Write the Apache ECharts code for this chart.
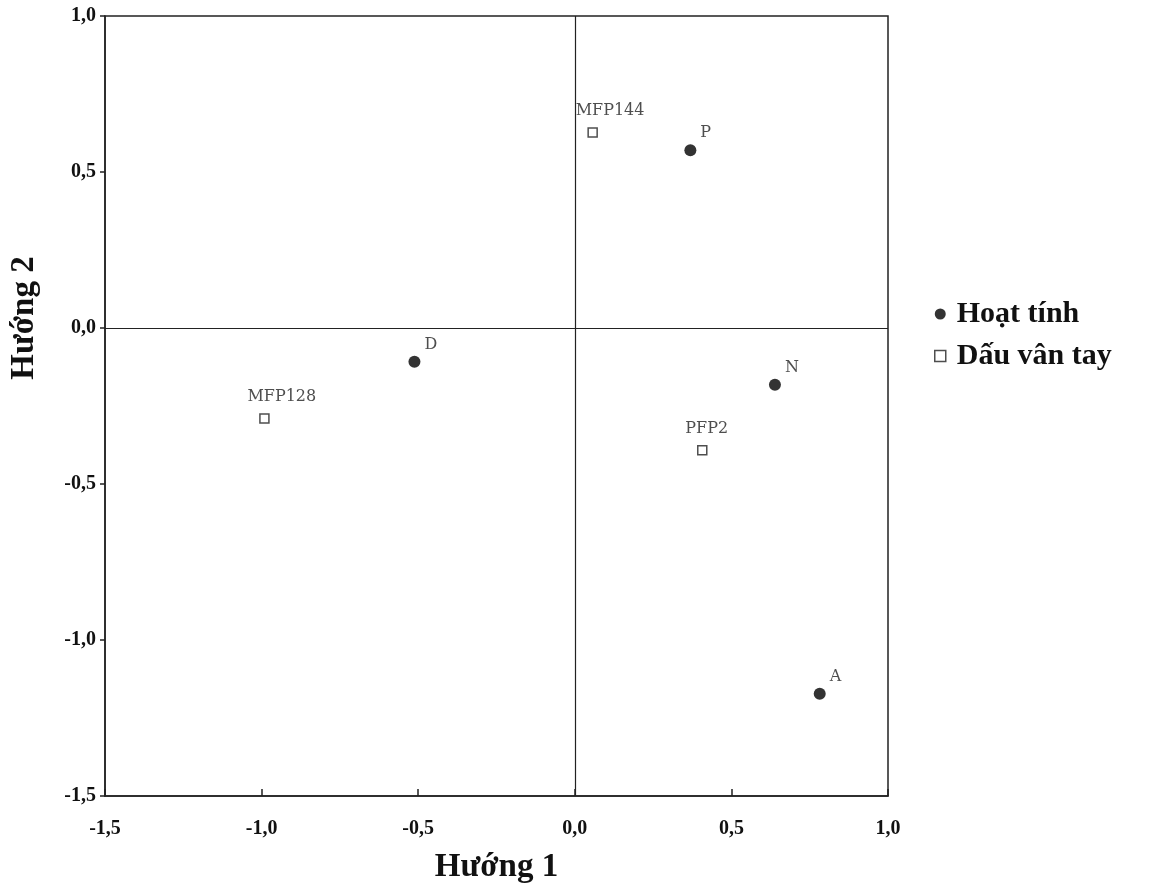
<!DOCTYPE html>
<html>
<head>
<meta charset="utf-8">
<script src="https://cdn.jsdelivr.net/npm/echarts@6/dist/echarts.min.js"></script>
<style>
html, body { margin: 0; padding: 0; background: #fff; }
#main { width: 1160px; height: 889px; }
</style>
</head>
<body>
<div id="main"></div>
<script>
var activityNames = ['P', 'D', 'N', 'A'];
var activityX = [0.369, -0.512, 0.639, 0.782];
var activityY = [0.570, -0.108, -0.182, -1.172];

var printNames = ['MFP144', 'MFP128', 'PFP2'];
var printX = [0.057, -0.991, 0.407];
var printY = [0.627, -0.290, -0.392];

var seriesNames = ['Hoạt tính', 'Dấu vân tay'];

function pairs(xs, ys, names) {
	var out = [];
	for (var i = 0; i < xs.length; i++) {
		out.push({ name: names[i], value: [xs[i], ys[i]] });
	}
	return out;
}

function fmt(v) {
	return v.toFixed(1).replace('.', ',');
}

var times = '"Liberation Serif", "DejaVu Serif", serif';
var plain = '"DejaVu Serif", "Liberation Serif", serif';

var myChart = echarts.init(document.getElementById('main'));

var axisCommon = {
	type: 'value',
	min: -1.5,
	max: 1.0,
	interval: 0.5,
	splitLine: { show: false },
	axisLine: { onZero: false, lineStyle: { color: '#222', width: 1.5 } },
	axisTick: { lineStyle: { color: '#222', width: 1.5 } },
	axisLabel: {
		formatter: fmt,
		color: '#111',
		fontFamily: times,
		fontWeight: 'bold',
		fontSize: 20
	},
	nameTextStyle: {
		color: '#111',
		fontFamily: times,
		fontWeight: 'bold',
		fontSize: 33
	}
};

var option = {
	backgroundColor: '#fff',
	animation: false,
	grid: {
		left: 101,
		right: 272,
		top: 16,
		bottom: 88,
		show: true,
		borderColor: '#222',
		borderWidth: 1.5,
		backgroundColor: 'transparent'
	},
	legend: {
		orient: 'vertical',
		left: 929,
		top: 293,
		itemGap: 10,
		itemWidth: 11,
		itemHeight: 11,
		data: [
			{ name: seriesNames[0], icon: 'circle' },
			{ name: seriesNames[1], icon: 'rect', itemStyle: { color: '#fff', borderColor: '#222', borderWidth: 1.5 } }
		],
		textStyle: {
			color: '#111',
			fontFamily: times,
			fontWeight: 'bold',
			fontSize: 30,
			lineHeight: 32,
			padding: [0, 0, 0, 6]
		}
	},
	xAxis: echarts.util.merge({
		name: 'Hướng 1',
		nameLocation: 'middle',
		nameGap: 55,
		axisTick: { inside: true, length: 7 },
		axisLabel: { margin: 23 }
	}, axisCommon),
	yAxis: echarts.util.merge({
		name: 'Hướng 2',
		nameLocation: 'middle',
		nameGap: 64,
		nameTextStyle: { padding: [0, 0, 0, 176] },
		axisTick: { inside: false, length: 5 },
		axisLabel: { margin: 9 }
	}, axisCommon),
	series: [
		{
			name: seriesNames[0],
			type: 'scatter',
			symbol: 'circle',
			symbolSize: 12,
			itemStyle: { color: '#000' },
			data: pairs(activityX, activityY, activityNames),
			label: {
				show: true,
				formatter: '{b}',
				position: 'right',
				distance: 4,
				offset: [0, -17],
				color: '#222',
				fontFamily: plain,
				fontSize: 16
			},
			markLine: {
				silent: true,
				symbol: 'none',
				label: { show: false },
				lineStyle: { color: '#222', width: 1.2, type: 'solid' },
				data: [{ xAxis: 0 }, { yAxis: 0 }]
			}
		},
		{
			name: seriesNames[1],
			type: 'scatter',
			symbol: 'rect',
			symbolSize: 9,
			itemStyle: { color: '#fff', borderColor: '#222', borderWidth: 1.5 },
			data: pairs(printX, printY, printNames),
			label: {
				show: true,
				formatter: '{b}',
				position: 'top',
				align: 'left',
				distance: 8,
				offset: [-17, 0],
				color: '#222',
				fontFamily: plain,
				fontSize: 16
			}
		}
	]
};

myChart.setOption(option);
</script>
</body>
</html>
